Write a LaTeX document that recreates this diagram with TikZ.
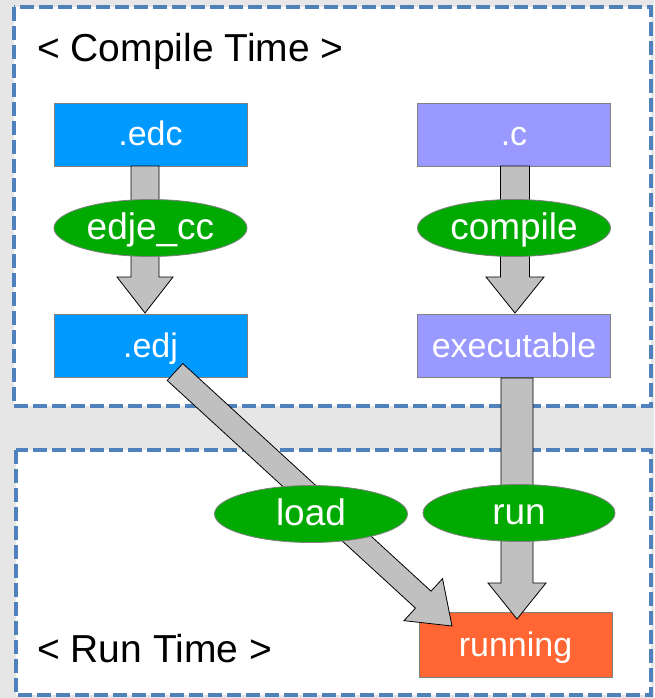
\documentclass[tikz,border=0pt]{standalone}
\usepackage{fontspec}
\setmainfont{Liberation Sans}
\usetikzlibrary{calc,shapes.geometric}
\definecolor{bgg}{HTML}{E6E6E6}
\definecolor{dashblue}{HTML}{4F81BD}
\definecolor{edcblue}{HTML}{0099FF}
\definecolor{cviolet}{HTML}{9999FF}
\definecolor{runorange}{HTML}{FF6633}
\definecolor{ovgreen}{HTML}{00AA00}
\definecolor{arrgray}{HTML}{C0C0C0}
\definecolor{edgegray}{HTML}{808080}
\newcommand\fatarrow[5]{%
  \coordinate (hb) at ($(#2)!#5!(#1)$);
  \filldraw[fatarrowstyle] ($(#1)!#3!90:(#2)$) -- ($(hb)!#3!90:(#2)$) -- ($(hb)!#4!90:(#2)$) -- (#2) -- ($(hb)!#4!-90:(#2)$) -- ($(hb)!#3!-90:(#2)$) -- ($(#1)!#3!-90:(#2)$) -- cycle;}
\tikzset{
  phase/.style={draw=dashblue, line width=4pt, dash pattern=on 14pt off 5pt, fill=white},
  filebox/.style={draw=edgegray, line width=0.8pt, minimum width=193pt, minimum height=63pt, inner sep=0pt, text=white, text height=27pt, text depth=4pt, font=\fontsize{34}{40}\selectfont},
  oval/.style={ellipse, draw=edgegray, line width=0.8pt, fill=ovgreen, minimum width=193pt, minimum height=57pt, inner sep=0pt, text=white, text height=26pt, text depth=4pt, font=\fontsize{37}{42}\selectfont},
  fatarrowstyle/.style={fill=arrgray, draw=black, line width=0.8pt, line join=miter},
  title/.style={anchor=base west, inner sep=0pt, font=\fontsize{39}{44}\selectfont}
}
\begin{document}
\begin{tikzpicture}[x=1pt, y=-1pt]
\useasboundingbox (0,0) rectangle (654,698);
\fill[bgg] (0,0) rectangle (654,698);
\draw[phase] (14,7) rectangle (651,406);
\draw[phase] (16,450) rectangle (651,695);
% boxes
\node[filebox, fill=edcblue] (edc) at (150.5,134.5) {.edc};
\node[filebox, fill=edcblue] (edj) at (150.5,346) {.edj};
\node[filebox, fill=cviolet] (csrc) at (514,134.5) {.c};
\node[filebox, fill=cviolet] (exe) at (514,346) {executable};
\node[filebox, fill=runorange, minimum height=65pt] (running) at (515.5,644.5) {running};
% arrow endpoints
\coordinate (a1s) at (145,166);
\coordinate (a1e) at (145,313);
\coordinate (a2s) at (515,166);
\coordinate (a2e) at (515,313);
\coordinate (a3s) at (517,378);
\coordinate (a3e) at (517,619);
\coordinate (a4s) at (175,372);
\coordinate (a4e) at (452,626);
\fatarrow{a1s}{a1e}{14pt}{28pt}{36pt}
\fatarrow{a2s}{a2e}{14.5pt}{29pt}{36pt}
\fatarrow{a3s}{a3e}{16pt}{29pt}{36pt}
\fatarrow{a4s}{a4e}{11.5pt}{28.5pt}{39pt}
% ovals
\node[oval] (edjecc) at (150.5,228) {edje\_cc};
\node[oval] (compile) at (514,228) {compile};
\node[oval] (load) at (311,514) {load};
\node[oval, minimum width=192pt] (runl) at (519,513) {run};
% titles
\node[title] (ctitle) at (37,62) {< Compile Time >};
\node[title] (rtitle) at (37,662) {< Run Time >};
\end{tikzpicture}
\end{document}
